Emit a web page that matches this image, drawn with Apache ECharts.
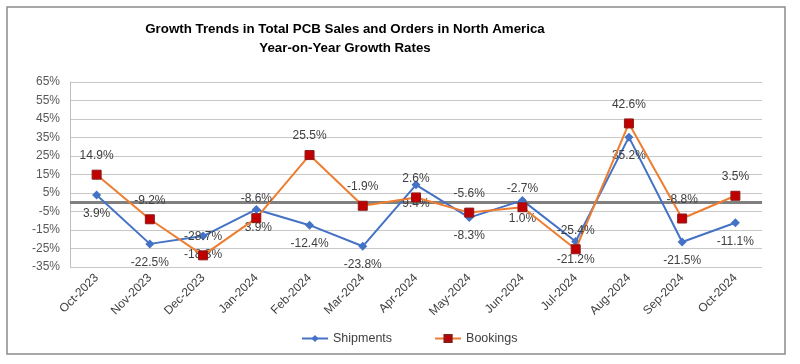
<!DOCTYPE html>
<html>
<head>
<meta charset="utf-8">
<script src="https://cdn.jsdelivr.net/npm/echarts@6/dist/echarts.min.js"></script>
<style>html,body{margin:0;padding:0;background:#fff;}#c{width:800px;height:364px;}</style>
</head>
<body>
<div id="c"></div>
<script>
var categories = ['Oct-2023','Nov-2023','Dec-2023','Jan-2024','Feb-2024','Mar-2024','Apr-2024','May-2024','Jun-2024','Jul-2024','Aug-2024','Sep-2024','Oct-2024'];
var shipments = [3.9, -22.5, -18.3, -3.9, -12.4, -23.8, 9.4, -8.3, 1.0, -21.2, 35.2, -21.5, -11.1];
var bookings = [14.9, -9.2, -28.7, -8.6, 25.5, -1.9, 2.6, -5.6, -2.7, -25.4, 42.6, -8.8, 3.5];
var yMin = -35, yMax = 65, yStep = 10;

var chart = echarts.init(document.getElementById('c'), null, {renderer: 'canvas'});
var font = 'Liberation Sans, Arial, sans-serif';
function pct(p){ return p.value.toFixed(1) + '%'; }
chart.setOption({
  animation: false,
  textStyle: {fontFamily: font},
  graphic: [{
    type: 'rect', shape: {x: 7, y: 7, width: 778, height: 347},
    style: {fill: 'none', stroke: '#8c8c8c', lineWidth: 1.5}, z: -1
  }],
  title: {
    text: 'Growth Trends in Total PCB Sales and Orders in North America\nYear-on-Year Growth Rates',
    left: 340, top: 15, textAlign: 'center',
    textStyle: {fontFamily: font, fontSize: 13.3, fontWeight: 'bold', color: '#000', lineHeight: 19}
  },
  legend: {
    data: ['Shipments', 'Bookings'],
    left: 296, top: 327, itemWidth: 26, itemHeight: 9, itemGap: 42,
    textStyle: {fontFamily: font, fontSize: 12.5, color: '#404040'}
  },
  grid: {left: 70, right: 38, top: 82, bottom: 97},
  xAxis: {
    type: 'category', data: categories, boundaryGap: true,
    axisLine: {lineStyle: {color: '#bfbfbf'}},
    axisTick: {show: false},
    axisLabel: {rotate: 45, fontSize: 12, color: '#404040', margin: 9, interval: 0}
  },
  yAxis: {
    type: 'value', min: yMin, max: yMax, interval: yStep,
    axisLine: {show: true, lineStyle: {color: '#bfbfbf'}},
    axisTick: {show: false},
    axisLabel: {fontSize: 12, color: '#595959', margin: 10, formatter: function(v){ return v + '%'; }},
    splitLine: {lineStyle: {color: '#c8c8c8', width: 1}}
  },
  series: [{
    name: 'Shipments', type: 'line', data: shipments,
    symbol: 'diamond', symbolSize: 9,
    lineStyle: {color: '#4472C4', width: 2},
    itemStyle: {color: '#4472C4'},
    label: {show: true, position: 'bottom', distance: 8, formatter: pct, fontSize: 12, color: '#404040'},
    markLine: {
      silent: true, symbol: 'none', label: {show: false},
      lineStyle: {color: '#808080', width: 3, type: 'solid'},
      data: [{yAxis: 0}], z: 1
    },
    z: 3
  }, {
    name: 'Bookings', type: 'line', data: bookings,
    symbol: 'rect', symbolSize: 9,
    lineStyle: {color: '#ED7D31', width: 2},
    itemStyle: {color: '#C00000', borderColor: '#8b1a1a', borderWidth: 1},
    label: {show: true, position: 'top', distance: 8, formatter: pct, fontSize: 12, color: '#404040'},
    z: 4
  }]
});
</script>
</body>
</html>
